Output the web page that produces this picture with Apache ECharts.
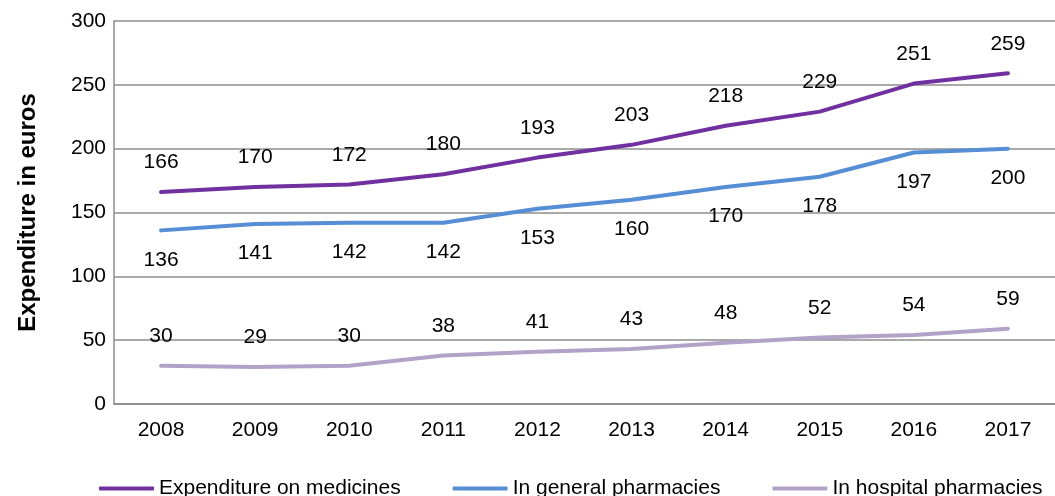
<!DOCTYPE html>
<html><head><meta charset="utf-8">
<script src="https://cdn.jsdelivr.net/npm/echarts@6/dist/echarts.min.js"></script>
<style>html,body{margin:0;padding:0;background:#fff}#c{width:1055px;height:496px}</style>
</head><body><div id="c"></div>
<script>
var categories = ['2008','2009','2010','2011','2012','2013','2014','2015','2016','2017'];
var medicines = [166,170,172,180,193,203,218,229,251,259];
var general = [136,141,142,142,153,160,170,178,197,200];
var hospital = [30,29,30,38,41,43,48,52,54,59];
var yTicks = [0,50,100,150,200,250,300];

var font = 'Liberation Sans, Arial, sans-serif';
var chart = echarts.init(document.getElementById('c'));
function lbl(pos){return {show:true,position:pos,distance:19,color:'#000',fontSize:21,fontFamily:font};}
chart.setOption({
  animation:false,
  grid:{left:114,right:0,top:21,bottom:92},
  legend:{bottom:-8,left:94,itemWidth:55,itemHeight:4,itemGap:52,icon:'roundRect',
    textStyle:{fontSize:21,color:'#000',fontFamily:font},
    data:['Expenditure on medicines','In general pharmacies','In hospital pharmacies']},
  xAxis:{type:'category',data:categories,boundaryGap:true,
    axisLine:{lineStyle:{color:'#8c8c8c',width:1.5}},axisTick:{show:false},
    axisLabel:{fontSize:21,color:'#000',fontFamily:font,margin:16}},
  yAxis:{type:'value',min:yTicks[0],max:yTicks[yTicks.length-1],interval:50,
    name:'Expenditure in euros',nameLocation:'middle',nameGap:74,
    nameTextStyle:{fontSize:24,fontWeight:'bold',color:'#000',fontFamily:font},
    axisLine:{show:true,lineStyle:{color:'#8c8c8c',width:1.5}},axisTick:{show:false},
    axisLabel:{fontSize:21,color:'#000',fontFamily:font,margin:8},
    splitLine:{lineStyle:{color:'#8c8c8c',width:1.5}}},
  series:[
    {name:'Expenditure on medicines',type:'line',data:medicines,symbol:'circle',symbolSize:0,
     lineStyle:{color:'#7030A0',width:4,cap:'round'},itemStyle:{color:'#7030A0'},label:lbl('top')},
    {name:'In general pharmacies',type:'line',data:general,symbol:'circle',symbolSize:0,
     lineStyle:{color:'#558ED5',width:4,cap:'round'},itemStyle:{color:'#558ED5'},label:lbl('bottom')},
    {name:'In hospital pharmacies',type:'line',data:hospital,symbol:'circle',symbolSize:0,
     lineStyle:{color:'#B3A2C7',width:4,cap:'round'},itemStyle:{color:'#B3A2C7'},label:lbl('top')}
  ]
});
</script></body></html>
